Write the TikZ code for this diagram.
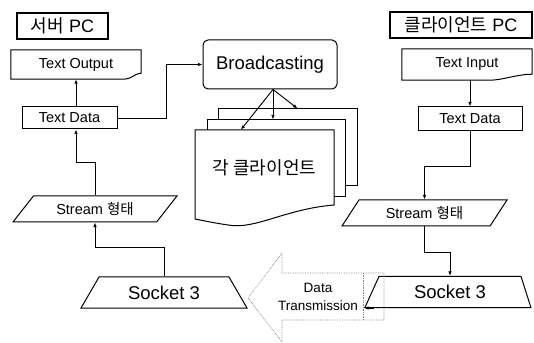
\documentclass[tikz,border=0pt]{standalone}
\usepackage{fontspec}
\setmainfont{Liberation Sans}
\newfontfamily\kr{Noto Sans CJK KR}
\usepackage{tikz}
\usetikzlibrary{arrows.meta,shapes.geometric}

\tikzset{
    pcbox/.style={draw, line width=1.8pt, minimum height=26, inner sep=0pt, font=\fontsize{18}{20}\selectfont},
    flowbox/.style={draw, line width=1pt, inner sep=0pt, font=\fontsize{14.5}{16}\selectfont},
    doclabel/.style={inner sep=0pt, font=\fontsize{14.5}{16}\selectfont},
    pagebox/.style={draw, line width=1pt, fill=white, inner sep=0pt},
    sockshape/.style={draw, line width=1pt, shape=trapezium, trapezium stretches body, inner sep=0pt, minimum height=31, font=\fontsize{18.5}{20}\selectfont},
    streamshape/.style={draw, line width=1pt, shape=trapezium, trapezium stretches body, inner sep=0pt, minimum height=26, font=\fontsize{14.5}{16}\selectfont},
    link/.style={line width=1pt},
    arr/.style={line width=0.9pt, -{Latex[length=4.5pt,width=3.5pt]}},
    dtline/.style={densely dotted, line width=0.7pt, gray},
}

\begin{document}
\begin{tikzpicture}[x=1pt,y=1pt]
        \useasboundingbox (0,0) rectangle (534,342);

        % server side
        \node[pcbox, minimum width=91] (srvpc) at (62.5,316) {{\kr 서버} PC};

        \node[doclabel, minimum width=130, minimum height=29] (tout) at (76,277.5) {Text Output};
        \draw[link] (tout.south west) -- (tout.north west) -- (tout.north east) -- ([yshift=6]tout.south east)
            .. controls +(-8,-1) and +(7,0) .. ([xshift=-17]tout.south east) -- cycle;

        \node[flowbox, minimum width=95, minimum height=22] (std) at (69.5,224) {Text Data};

        \node[streamshape, minimum width=164, trapezium left angle=33, trapezium right angle=147] (sst) at (95,133) {Stream {\kr 형태}};

        \node[sockshape, minimum width=166, trapezium left angle=37, trapezium right angle=37] (ssock) at (164,49.5) {Socket 3};

        % broadcasting and the client pages
        \node[draw, line width=1pt, rounded corners=5pt, minimum width=134, minimum height=49, font=\fontsize{18.5}{20}\selectfont] (bc) at (270,277.5) {Broadcasting};

        \node[pagebox, minimum width=139, minimum height=77] (pg3) at (287.5,194.5) {};
        \node[pagebox, minimum width=138, minimum height=77] (pg2) at (276,183.5) {};
        \draw[link, fill=white] (195,212) -- (334,212) -- (334,137) .. controls (285,133) and (255,112) .. (228,117)
            .. controls (215,119) .. (195,123) -- cycle;
        \node[doclabel, minimum width=139, minimum height=76, font=\fontsize{18}{20}\selectfont] (pg1) at (264.5,174) {{\kr 각 클라이언트}};

        % client side
        \node[pcbox, minimum width=142] (clipc) at (461,317) {{\kr 클라이언트} PC};

        \node[doclabel, minimum width=130, minimum height=31] (tin) at (467,277.5) {Text Input};
        \draw[link] (tin.south west) -- (tin.north west) -- (tin.north east) -- ([yshift=6]tin.south east)
            .. controls +(-15,0) and +(12,0) .. ([xshift=-42]tin.south east) -- cycle;

        \node[flowbox, minimum width=104, minimum height=24] (ctd) at (470,223) {Text Data};

        \node[streamshape, minimum width=165, trapezium left angle=38, trapezium right angle=142] (cst) at (424.5,129) {Stream {\kr 형태}};

        \node[sockshape, minimum width=166, trapezium left angle=44, trapezium right angle=54] (csock) at (450,50) {Socket 3};

        % data transmission
        \draw[dtline] (384,69) -- (282,69) -- (282,89) -- (248,44) -- (282,0) -- (282,22) -- (384,22) -- cycle;
        \draw[dtline] (363,69) -- (363,22);
        \node[align=center, inner sep=0pt, font=\fontsize{13.5}{18}\selectfont] (dt) at (318,45) {Data\\Transmission};

        % connectors
        \draw[arr] (std.north -| tout.south) -- (tout.south);
        \draw[arr] (std.east) -- ++(49,0) |- (bc.west);
        \draw[arr] (sst.north) -- ++(0,33) -| (std.south -| tout.south);
        \draw[arr] (ssock.north) -- ++(0,29) -| (sst.south);

        \draw[arr] ([xshift=3]bc.south) -- ([xshift=46]pg1.north west);
        \draw[arr] ([xshift=3]bc.south) -- ([xshift=-3]pg2.north);
        \draw[arr] ([xshift=3]bc.south) -- ([xshift=10]pg3.north);

        \draw[arr] (tin.south -| ctd.north) -- (ctd.north);
        \draw[arr] (ctd.south) -- ++(0,-35) -| (cst.north);
        \draw[arr] (cst.south) -- ++(0,-26) -| (csock.north);
        \draw[arr] ([xshift=10]csock.bottom left corner) -- (csock.bottom left corner);
\end{tikzpicture}
\end{document}
